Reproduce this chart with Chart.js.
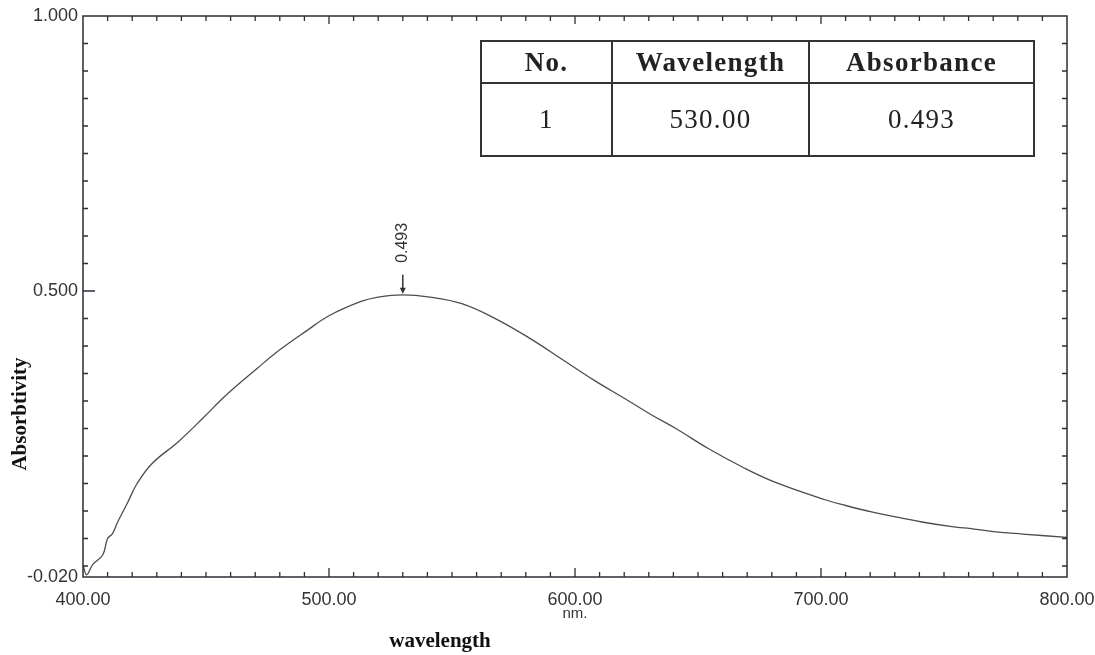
<!DOCTYPE html>
<html>
<head>
<meta charset="utf-8">
<script src="https://cdn.jsdelivr.net/npm/chart.js@4/dist/chart.umd.min.js"></script>
<style>
  html, body { margin: 0; padding: 0; background: #fff; }
  #wrap { position: relative; width: 1095px; height: 655px; }
  #peaks {
    position: absolute; left: 480px; top: 40px; width: 553px; height: 117px;
    border-collapse: collapse; font-family: 'Liberation Serif', 'Times New Roman', serif;
    color: #222; table-layout: fixed;
  }
  #peaks td, #peaks th { border: 2px solid #333; text-align: center; padding: 0; }
  #peaks th { height: 40px; font-weight: bold; font-size: 27px; letter-spacing: 1.3px; }
  #peaks td { font-size: 27px; letter-spacing: 1.3px; }
</style>
</head>
<body>
<div id="wrap">
  <canvas id="chart" width="1095" height="655"></canvas>
  <table id="peaks">
    <colgroup><col style="width:131px"><col style="width:197px"><col style="width:225px"></colgroup>
    <tr><th>No.</th><th>Wavelength</th><th>Absorbance</th></tr>
    <tr><td>1</td><td>530.00</td><td>0.493</td></tr>
  </table>
</div>
<script>
'use strict';

const wavelengths = [400, 401.5, 404, 408, 410, 412, 414, 418, 422, 428, 439, 449, 458, 471, 480, 491, 500,
  513, 520, 530, 541, 554, 568, 582, 595, 608, 620, 631, 641, 654, 668, 681, 702, 710, 721, 732, 741,
  754, 761, 771, 782, 800];
const absorbance = [0.002, -0.016, 0.003, 0.020, 0.050, 0.059, 0.079, 0.114, 0.150, 0.186, 0.227, 0.270,
  0.310, 0.360, 0.393, 0.428, 0.455, 0.481, 0.489, 0.493, 0.489, 0.477, 0.449, 0.413, 0.375, 0.337, 0.305,
  0.275, 0.250, 0.214, 0.180, 0.153, 0.120, 0.110, 0.098, 0.088, 0.080, 0.071, 0.068, 0.062, 0.058, 0.052];
const xTickLabels = [400, 500, 600, 700, 800];
const yTickLabels = [-0.02, 0.5, 1.0];
const peakLabel = '0.493';

const frameColor = '#2b2e36';
const lineColor = '#4d4d4d';
const textColor = '#333';

const decor = {
  id: 'decor',
  afterDraw(chart) {
    const { ctx, chartArea: a, scales: { x, y } } = chart;
    ctx.save();
    ctx.strokeStyle = frameColor;
    ctx.lineWidth = 1.5;
    ctx.strokeRect(a.left, a.top, a.right - a.left, a.bottom - a.top);

    // inward ticks on all four sides
    ctx.lineWidth = 1.3;
    ctx.beginPath();
    for (let w = 410; w < 800; w += 10) {
      const px = x.getPixelForValue(w);
      const major = w % 100 === 0;
      ctx.moveTo(px, a.bottom);
      ctx.lineTo(px, a.bottom - (major ? 9 : 5));
      ctx.moveTo(px, a.top);
      ctx.lineTo(px, a.top + (major ? 8 : 5));
    }
    for (let k = 0; k < 20; k++) {
      const py = y.getPixelForValue(k * 0.05);
      ctx.moveTo(a.left, py);
      ctx.lineTo(a.left + (k === 10 ? 12 : 5), py);
      ctx.moveTo(a.right, py);
      ctx.lineTo(a.right - 5, py);
    }
    ctx.stroke();

    // peak marker
    const i = absorbance.indexOf(Math.max(...absorbance));
    const px = x.getPixelForValue(wavelengths[i]);
    const py = y.getPixelForValue(absorbance[i]);
    ctx.strokeStyle = '#333';
    ctx.fillStyle = '#333';
    ctx.lineWidth = 1.5;
    ctx.beginPath();
    ctx.moveTo(px, py - 20);
    ctx.lineTo(px, py - 5);
    ctx.stroke();
    ctx.beginPath();
    ctx.moveTo(px - 3, py - 7);
    ctx.lineTo(px + 3, py - 7);
    ctx.lineTo(px, py - 1);
    ctx.closePath();
    ctx.fill();

    ctx.fillStyle = textColor;
    ctx.font = '16px "Liberation Sans", Arial, sans-serif';
    ctx.textAlign = 'center';
    ctx.textBaseline = 'middle';
    ctx.save();
    ctx.translate(px, py - 52);
    ctx.rotate(-Math.PI / 2);
    ctx.fillText(peakLabel, 0, 0);
    ctx.restore();

    // unit + axis titles
    ctx.font = '15px "Liberation Sans", Arial, sans-serif';
    ctx.fillText('nm.', x.getPixelForValue(600), 614);
    ctx.fillStyle = '#111';
    ctx.font = 'bold 21px "Liberation Serif", "Times New Roman", serif';
    ctx.fillText('wavelength', 440, 642);
    ctx.save();
    ctx.translate(21, 414);
    ctx.rotate(-Math.PI / 2);
    ctx.fillText('Absorbtivity', 0, 0);
    ctx.restore();
    ctx.restore();
  }
};

new Chart(document.getElementById('chart'), {
  type: 'line',
  data: {
    datasets: [{
      data: wavelengths.map((w, i) => ({ x: w, y: absorbance[i] })),
      borderColor: lineColor,
      borderWidth: 1.3,
      pointRadius: 0,
      tension: 0.4,
      fill: false,
    }],
  },
  options: {
    responsive: false,
    animation: false,
    events: [],
    layout: { padding: { top: 16, right: 28, left: 0, bottom: 0 } },
    plugins: { legend: { display: false }, tooltip: { enabled: false } },
    scales: {
      x: {
        type: 'linear',
        min: 400,
        max: 800,
        afterBuildTicks: scale => { scale.ticks = xTickLabels.map(v => ({ value: v })); },
        afterFit: scale => {
          scale.height = 78;
          scale.paddingLeft = 0;
          scale.paddingRight = 0;
        },
        grid: { display: false, drawTicks: false },
        border: { display: false },
        ticks: {
          padding: 12,
          color: textColor,
          font: { family: '"Liberation Sans", Arial, sans-serif', size: 18 },
          callback: v => Number(v).toFixed(2),
          maxRotation: 0,
        },
      },
      y: {
        min: -0.02,
        max: 1.0,
        afterBuildTicks: scale => { scale.ticks = yTickLabels.map(v => ({ value: v })); },
        afterFit: scale => {
          scale.width = 83;
          scale.paddingTop = 0;
          scale.paddingBottom = 0;
        },
        grid: { display: false, drawTicks: false },
        border: { display: false },
        ticks: {
          padding: 5,
          color: textColor,
          font: { family: '"Liberation Sans", Arial, sans-serif', size: 18 },
          callback: v => Number(v).toFixed(3),
        },
      },
    },
  },
  plugins: [decor],
});
</script>
</body>
</html>
